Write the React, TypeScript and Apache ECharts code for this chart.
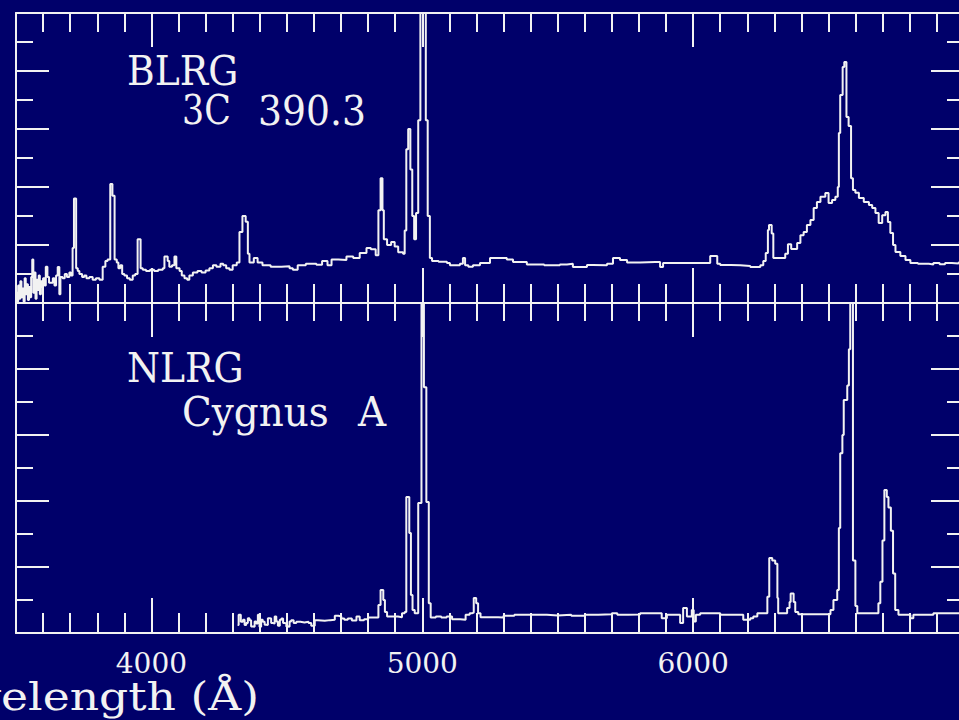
import React, { useEffect, useRef } from "react";
import * as echarts from "echarts";

const BG = "#00006a";
const FG = "#f2f2f2";
const FONT = "DejaVu Serif";

const majorTicks = [4000, 5000, 6000];
const tickLabels = ["4000", "5000", "6000"];
const xTitle = "Wavelength (Å)";

// BLRG 3C 390.3 (upper panel)
const blrgWave = [
  3500, 3504, 3508, 3512, 3516, 3520, 3524, 3528, 3532, 3536, 3540, 3544, 3548, 3552, 3556, 3560,
  3564, 3568, 3572, 3576, 3580, 3584, 3588, 3592, 3596, 3600, 3606, 3610, 3616, 3622, 3629, 3636,
  3642, 3648, 3654, 3660, 3664, 3672, 3680, 3688, 3697, 3703, 3709, 3714, 3722, 3728, 3734, 3744,
  3752, 3760, 3771, 3783, 3795, 3808, 3820, 3830, 3838, 3848, 3856, 3864, 3872, 3878, 3885, 3892,
  3900, 3910, 3920, 3931, 3940, 3949, 3960, 3968, 3980, 3995, 4010, 4025, 4042, 4048, 4060, 4066,
  4076, 4085, 4092, 4104, 4112, 4122, 4132, 4140, 4153, 4170, 4185, 4200, 4214, 4227, 4240, 4255,
  4265, 4276, 4288, 4300, 4315, 4325, 4336, 4348, 4356, 4362, 4378, 4392, 4410, 4440, 4480, 4510,
  4522, 4540, 4570, 4609, 4630, 4650, 4665, 4690, 4720, 4745, 4769, 4794, 4810, 4828, 4838, 4846,
  4853, 4858, 4870, 4885, 4898, 4911, 4929, 4935, 4941, 4948, 4956, 4963, 4970, 4977, 4985, 4993,
  5013, 5020, 5028, 5036, 5060, 5091, 5102, 5139, 5150, 5158, 5170, 5187, 5213, 5250, 5312, 5335,
  5386, 5450, 5508, 5534, 5556, 5608, 5630, 5682, 5704, 5730, 5756, 5804, 5860, 5878, 5889, 5950,
  6000, 6052, 6063, 6089, 6100, 6140, 6174, 6211, 6248, 6259, 6268, 6276, 6280, 6290, 6296, 6303,
  6340, 6350, 6362, 6384, 6396, 6408, 6420, 6433, 6445, 6457, 6470, 6488, 6500, 6513, 6525, 6534,
  6538, 6543, 6552, 6558, 6566, 6574, 6583, 6590, 6599, 6612, 6630, 6649, 6661, 6673, 6685, 6698,
  6710, 6719, 6728, 6738, 6747, 6765, 6784, 6802, 6830, 6870, 6887, 6910, 6930, 6955, 6980, 7000,
];
const blrgFlux = [
  0.35, 0.05, 0.6, 0.15, 0.75, 0.2, 0.5, 0.05, 0.85, 0.3, 0.65, 0.1, 0.55, 0.2, 0.9, 1.5,
  0.35, 1.05, 0.15, 0.8, 0.45, 0.95, 0.3, 0.75, 0.55, 0.85, 0.6, 1.25, 0.9, 0.7, 0.7, 0.85,
  0.6, 0.95, 1.24, 0.3, 0.9, 0.85, 1.0, 0.9, 1.05, 0.95, 1.9, 3.6, 1.2, 1.1, 1.0, 0.9,
  0.95, 0.85, 0.9, 0.8, 0.85, 0.8, 1.25, 1.45, 1.5, 4.1, 3.7, 1.5, 1.4, 1.2, 1.3, 1.0,
  0.95, 0.85, 0.8, 0.95, 1.0, 2.2, 1.2, 1.15, 1.1, 1.15, 1.1, 1.15, 1.2, 1.6, 1.45, 1.25,
  1.3, 1.6, 1.2, 1.1, 0.95, 0.85, 0.8, 0.95, 1.05, 1.1, 1.05, 1.12, 1.2, 1.3, 1.25, 1.35,
  1.3, 1.2, 1.15, 1.3, 1.4, 2.45, 3.0, 2.8, 1.7, 1.4, 1.55, 1.4, 1.3, 1.25, 1.27, 1.2,
  1.15, 1.3, 1.35, 1.32, 1.45, 1.3, 1.5, 1.48, 1.6, 1.55, 1.72, 1.9, 1.85, 1.65, 3.2, 4.3,
  3.2, 2.2, 2.0, 2.1, 1.95, 1.75, 1.7, 2.5, 5.3, 6.0, 4.6, 3.0, 2.2, 3.1, 6.3, 13,
  6.3, 3.0, 1.55, 1.45, 1.42, 1.38, 1.3, 1.35, 1.55, 1.3, 1.25, 1.3, 1.38, 1.55, 1.5, 1.41,
  1.33, 1.3, 1.33, 1.35, 1.24, 1.31, 1.3, 1.35, 1.55, 1.48, 1.4, 1.41, 1.41, 1.24, 1.38, 1.38,
  1.38, 1.38, 1.62, 1.35, 1.31, 1.3, 1.28, 1.24, 1.3, 1.45, 1.72, 2.52, 2.69, 2.4, 1.55, 1.55,
  1.7, 2.03, 1.86, 2.07, 2.34, 2.45, 2.69, 2.86, 3.28, 3.48, 3.66, 3.79, 3.45, 3.55, 3.66, 4.0,
  5.86, 7.17, 8.14, 8.31, 6.41, 6.1, 4.3, 3.9, 3.8, 3.62, 3.48, 3.38, 3.28, 3.1, 2.76, 3.03,
  3.14, 2.79, 2.41, 2.0, 1.76, 1.62, 1.48, 1.38, 1.35, 1.33, 1.38, 1.34, 1.38, 1.36, 1.4, 1.4,
];

// NLRG Cygnus A (lower panel)
const nlrgWave = [
  4318, 4322, 4330, 4338, 4344, 4350, 4356, 4362, 4368, 4375, 4381, 4387, 4393, 4399, 4405, 4411,
  4418, 4424, 4430, 4436, 4442, 4448, 4455, 4461, 4467, 4474, 4480, 4486, 4492, 4498, 4504, 4510,
  4516, 4525, 4535, 4550, 4565, 4580, 4590, 4603, 4615, 4640, 4660, 4677, 4690, 4701, 4712, 4725,
  4740, 4757, 4769, 4785, 4800, 4831, 4838, 4846, 4856, 4862, 4870, 4890, 4910, 4925, 4935, 4941,
  4952, 4958, 4964, 4972, 4985, 4997, 5006, 5015, 5024, 5031, 5050, 5070, 5090, 5110, 5140, 5160,
  5175, 5185, 5190, 5199, 5206, 5215, 5250, 5280, 5300, 5340, 5400, 5460, 5500, 5550, 5600, 5650,
  5700, 5720, 5760, 5804, 5871, 5884, 5903, 5952, 5963, 5977, 5995, 6002, 6010, 6026, 6089, 6100,
  6174, 6185, 6211, 6222, 6237, 6274, 6281, 6292, 6303, 6311, 6314, 6340, 6347, 6356, 6360, 6371,
  6377, 6388, 6496, 6507, 6518, 6532, 6538, 6543, 6551, 6556, 6569, 6575, 6580, 6590, 6599, 6606,
  6673, 6684, 6691, 6699, 6706, 6715, 6721, 6730, 6738, 6746, 6758, 6802, 6813, 6887, 7000,
];
const nlrgFlux = [
  0.24, 0.55, 0.34, 0.4, 0.24, 0.3, 0.45, 0.39, 0.2, 0.19, 0.35, 0.29, 0.55, 0.19, 0.4, 0.34,
  0.25, 0.24, 0.45, 0.44, 0.3, 0.29, 0.5, 0.35, 0.22, 0.4, 0.44, 0.3, 0.29, 0.2, 0.19, 0.35,
  0.39, 0.3, 0.34, 0.32, 0.34, 0.3, 0.22, 0.39, 0.37, 0.39, 0.4, 0.52, 0.5, 0.44, 0.4, 0.44,
  0.38, 0.5, 0.39, 0.42, 0.47, 0.47, 0.85, 1.3, 1.0, 0.64, 0.5, 0.5, 0.48, 0.6, 0.64, 4.12,
  3.03, 1.15, 0.7, 0.6, 3.94, 11, 7.45, 3.97, 0.9, 0.47, 0.5, 0.47, 0.5, 0.42, 0.4, 0.55,
  0.6, 0.62, 1.06, 0.9, 0.6, 0.48, 0.48, 0.47, 0.52, 0.55, 0.55, 0.53, 0.55, 0.52, 0.55, 0.57,
  0.6, 0.55, 0.56, 0.6, 0.6, 0.45, 0.55, 0.3, 0.76, 0.5, 0.7, 0.35, 0.55, 0.6, 0.6, 0.55,
  0.55, 0.4, 0.45, 0.5, 0.6, 1.1, 2.27, 2.2, 2.1, 1.06, 0.6, 0.6, 0.76, 0.94, 1.2, 0.94,
  0.64, 0.57, 0.57, 0.7, 1.0, 1.3, 3.18, 5.45, 6.0, 7.06, 7.5, 8.6, 10.3, 2.2, 0.82, 0.6,
  0.6, 0.9, 1.55, 2.8, 4.33, 4.12, 3.8, 3.1, 1.8, 0.7, 0.55, 0.45, 0.55, 0.6, 0.6,
];

const zip = (w: number[], f: number[]) => w.map((x, i) => [x, f[i]]);

const line = { color: FG, width: 2 };

function xAxis(gridIndex: number, position: string, major: boolean, labels: boolean, len: number) {
  return {
    type: "value",
    gridIndex,
    position,
    min: 3500,
    max: 7000,
    ...(major ? {} : { interval: 100 }),
    splitLine: { show: false },
    axisLine: { show: major, onZero: false, lineStyle: line },
    axisTick: major
      ? { show: true, inside: true, length: len, customValues: majorTicks, lineStyle: line }
      : { show: true, inside: true, length: len, lineStyle: line },
    axisLabel: labels
      ? {
          show: true,
          customValues: majorTicks,
          formatter: (v: number) => tickLabels[majorTicks.indexOf(v)] ?? "",
          color: FG,
          fontFamily: FONT,
          fontSize: 28,
          margin: 16,
        }
      : { show: false },
  };
}

function yAxis(gridIndex: number, position: string) {
  return {
    type: "value",
    gridIndex,
    position,
    min: 0,
    max: 10,
    interval: 2,
    splitLine: { show: false },
    axisLine: { show: true, onZero: false, lineStyle: line },
    axisTick: { show: true, inside: true, length: 33, lineStyle: line },
    minorTick: { show: true, splitNumber: 2, length: 17, lineStyle: line },
    axisLabel: { show: false },
  };
}

function label(text: string, x: number, y: number, size: number, sx: number, align = "left") {
  return {
    type: "text",
    x,
    y,
    scaleX: sx,
    z: 10,
    style: {
      text,
      fill: FG,
      fontFamily: FONT,
      fontSize: size,
      align,
      textAlign: align,
      verticalAlign: "middle",
      textVerticalAlign: "middle",
    },
  };
}

export default function App() {
  const ref = useRef<HTMLDivElement>(null);
  useEffect(() => {
    document.body.style.margin = "0";
    document.body.style.background = BG;
    if (!ref.current) return;
    const chart = echarts.init(ref.current, undefined, { renderer: "svg" });
    chart.setOption({
      animation: false,
      backgroundColor: BG,
      grid: [
        { left: 16, top: 13, width: 948, height: 290, outerBoundsMode: "none" },
        { left: 16, top: 303, width: 948, height: 330, outerBoundsMode: "none" },
      ],
      xAxis: [
        xAxis(0, "bottom", true, false, 35),
        xAxis(0, "bottom", false, false, 19),
        xAxis(0, "top", true, false, 34),
        xAxis(0, "top", false, false, 19),
        xAxis(1, "bottom", true, true, 35),
        xAxis(1, "bottom", false, false, 20),
        xAxis(1, "top", true, false, 34),
        xAxis(1, "top", false, false, 18),
      ],
      yAxis: [yAxis(0, "left"), yAxis(0, "right"), yAxis(1, "left"), yAxis(1, "right")],
      series: [
        {
          type: "line",
          name: "BLRG 3C 390.3",
          xAxisIndex: 0,
          yAxisIndex: 0,
          step: "end",
          showSymbol: false,
          symbol: "none",
          clip: true,
          lineStyle: line,
          data: zip(blrgWave, blrgFlux),
        },
        {
          type: "line",
          name: "NLRG Cygnus A",
          xAxisIndex: 4,
          yAxisIndex: 2,
          step: "end",
          showSymbol: false,
          symbol: "none",
          clip: true,
          lineStyle: line,
          data: zip(nlrgWave, nlrgFlux),
        },
      ],
      graphic: [
        label("BLRG", 127, 70, 41, 0.92),
        label("3C", 182, 110, 41, 0.85),
        label("390.3", 258, 110, 41, 0.92),
        label("NLRG", 127, 367, 41, 0.92),
        label("Cygnus", 182, 412, 41, 0.95),
        label("A", 358, 412, 41, 0.95),
        label(xTitle, 259, 697, 39, 1.17, "right"),
      ],
    });
    return () => chart.dispose();
  }, []);
  return <div ref={ref} style={{ width: 959, height: 720 }} />;
}
